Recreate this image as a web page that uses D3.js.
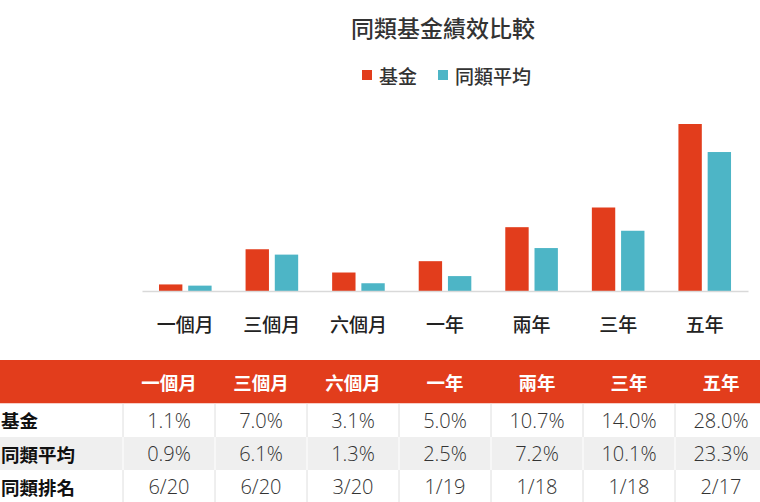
<!DOCTYPE html>
<html>
<head>
<meta charset="utf-8">
<script src="https://cdn.jsdelivr.net/npm/d3@7/dist/d3.min.js"></script>
<style>
  html, body { margin: 0; padding: 0; background: #fff; }
  svg { display: block; }
  .cjk { font-family: "Noto Sans CJK TC", "Noto Sans CJK SC", sans-serif; }
  .num { font-family: "Open Sans", "Noto Sans", sans-serif; }
</style>
</head>
<body>
<svg id="chart" width="760" height="502"></svg>
<script>
const title = "同類基金績效比較";
const categories = ["一個月", "三個月", "六個月", "一年", "兩年", "三年", "五年"];
const seriesNames = ["基金", "同類平均"];
const fundValues = [1.1, 7.0, 3.1, 5.0, 10.7, 14.0, 28.0];
const peerValues = [0.9, 6.1, 1.3, 2.5, 7.2, 10.1, 23.3];
const fundLabels = ["1.1%", "7.0%", "3.1%", "5.0%", "10.7%", "14.0%", "28.0%"];
const peerLabels = ["0.9%", "6.1%", "1.3%", "2.5%", "7.2%", "10.1%", "23.3%"];
const rankLabels = ["6/20", "6/20", "3/20", "1/19", "1/18", "1/18", "2/17"];
const rowLabels = ["基金", "同類平均", "同類排名"];

const RED = "#e23d1c";
const TEAL = "#4db5c6";
const colors = [RED, TEAL];

const svg = d3.select("#chart");

// Title
svg.append("text").attr("class", "cjk")
  .attr("x", 443).attr("y", 27)
  .attr("text-anchor", "middle").attr("dominant-baseline", "central")
  .attr("font-size", 23).attr("font-weight", 500).attr("fill", "#333")
  .text(title);

// Legend
const legendItems = [{ x: 362, tx: 379 }, { x: 438, tx: 455 }];
seriesNames.forEach((name, i) => {
  svg.append("rect").attr("x", legendItems[i].x).attr("y", 70)
    .attr("width", 10).attr("height", 10).attr("fill", colors[i]);
  svg.append("text").attr("class", "cjk")
    .attr("x", legendItems[i].tx).attr("y", 75)
    .attr("dominant-baseline", "central")
    .attr("font-size", 19).attr("font-weight", 500).attr("fill", "#333")
    .text(name);
});

// Scales
const x0 = d3.scaleBand().domain(categories).range([142, 748]).padding(0);
const x1 = d3.scaleBand().domain(seriesNames).range([17, 69.6]).paddingInner(0.2);
const y = d3.scaleLinear().domain([0, 28]).range([291, 124]);

const data = categories.map((c, i) => ({ cat: c, vals: [fundValues[i], peerValues[i]] }));

const groups = svg.append("g").selectAll("g").data(data).join("g")
  .attr("transform", d => `translate(${x0(d.cat)},0)`);
groups.selectAll("rect").data(d => d.vals.map((v, i) => ({ s: seriesNames[i], v, i })))
  .join("rect")
  .attr("x", d => x1(d.s))
  .attr("width", x1.bandwidth())
  .attr("y", d => y(d.v))
  .attr("height", d => y(0) - y(d.v))
  .attr("fill", d => colors[d.i]);

// Axis
const xAxis = svg.append("g").attr("transform", `translate(0,${y(0)})`)
  .call(d3.axisBottom(x0).tickSize(0).tickPadding(0));
xAxis.select(".domain").attr("stroke", "#d9d9d9").attr("stroke-width", 1.5);
xAxis.selectAll("text").attr("class", "cjk")
  .attr("dy", null).attr("y", 32).attr("dominant-baseline", "central")
  .attr("font-size", 19).attr("fill", "#222")
  .attr("font-weight", 500);

// Table
const tx = d3.scaleBand().domain(categories).range([123, 767]);
const tableTop = 360;
const headerH = 43.5;
const rowYs = [403.5, 437, 470, 503];

svg.append("rect").attr("x", 0).attr("y", tableTop).attr("width", 760)
  .attr("height", headerH).attr("fill", RED);
svg.append("g").selectAll("text").data(categories).join("text")
  .attr("class", "cjk")
  .attr("x", d => tx(d) + tx.bandwidth() / 2).attr("y", tableTop + headerH / 2)
  .attr("text-anchor", "middle").attr("dominant-baseline", "central")
  .attr("font-size", 18.5).attr("font-weight", 700).attr("fill", "#fff")
  .text(d => d);

const rows = [fundLabels, peerLabels, rankLabels];
rows.forEach((vals, r) => {
  const top = rowYs[r], bot = rowYs[r + 1];
  const bg = r === 1 ? "#efefef" : "#ffffff";
  const line = r === 1 ? "#ffffff" : "#dedede";
  svg.append("rect").attr("x", 0).attr("y", top).attr("width", 760)
    .attr("height", bot - top).attr("fill", bg);
  categories.forEach(c => {
    svg.append("line").attr("x1", tx(c)).attr("x2", tx(c))
      .attr("y1", top).attr("y2", bot).attr("stroke", line).attr("stroke-width", 1);
  });
  svg.append("text").attr("class", "cjk")
    .attr("x", 1).attr("y", (top + bot) / 2)
    .attr("dominant-baseline", "central")
    .attr("font-size", 18.5).attr("font-weight", 700).attr("fill", "#111")
    .text(rowLabels[r]);
  svg.append("g").selectAll("text").data(vals).join("text")
    .attr("class", "num")
    .attr("x", (d, i) => tx(categories[i]) + tx.bandwidth() / 2)
    .attr("y", (top + bot) / 2)
    .attr("text-anchor", "middle").attr("dominant-baseline", "central")
    .attr("font-size", 20).attr("font-weight", 300).attr("fill", "#333")
    .text(d => d);
});
</script>
</body>
</html>
